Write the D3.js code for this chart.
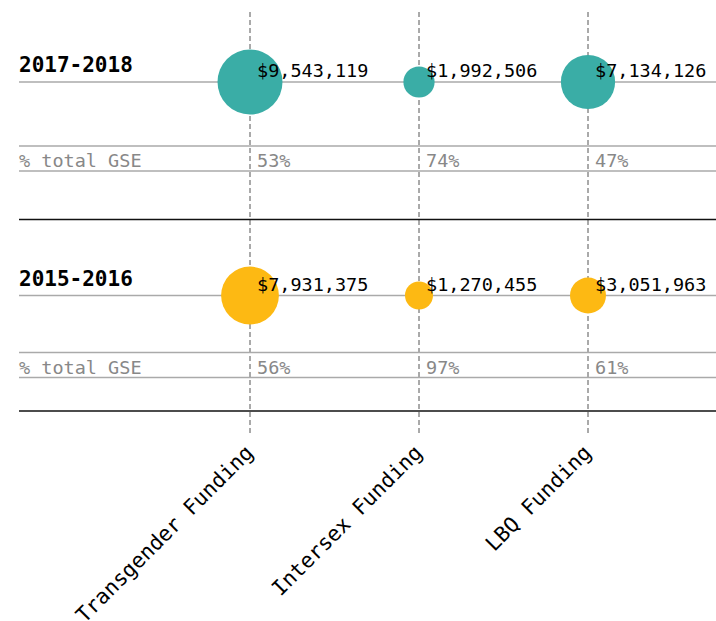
<!DOCTYPE html>
<html>
<head>
<meta charset="utf-8">
<script src="https://cdn.jsdelivr.net/npm/d3@7"></script>
<style>
  html, body { margin: 0; padding: 0; background: #fff; }
  svg { display: block; }
  text { font-family: "DejaVu Sans Mono", "Liberation Mono", monospace; }
</style>
</head>
<body>
<svg id="chart" width="716" height="621"></svg>
<script>
// ---- data ----
const categories = ["Transgender Funding", "Intersex Funding", "LBQ Funding"];
const periods = ["2017-2018", "2015-2016"];
const funding2017 = [9543119, 1992506, 7134126];
const funding2015 = [7931375, 1270455, 3051963];
const pctGSE2017 = ["53%", "74%", "47%"];
const pctGSE2015 = ["56%", "97%", "61%"];
const rowLabel = "% total GSE";

// ---- layout ----
const W = 716, H = 621;
const left = 19;
const svg = d3.select("#chart");

const x = d3.scalePoint().domain(categories).range([250, 588]);
const allVals = funding2017.concat(funding2015);
const r = d3.scaleLinear().domain(d3.extent(allVals)).range([14, 32.5]);
const fmt = d3.format("$,");

const rows = [
  { period: periods[0], values: funding2017, pct: pctGSE2017, color: "#3aada6",
    center: 82, g1: 146, g2: 171, black: 219.5 },
  { period: periods[1], values: funding2015, pct: pctGSE2015, color: "#fdb913",
    center: 295.5, g1: 352.5, g2: 377.5, black: 411 }
];

// dashed vertical guides
svg.append("g").selectAll("line").data(categories).join("line")
  .attr("x1", d => x(d)).attr("x2", d => x(d))
  .attr("y1", 12).attr("y2", 435)
  .attr("stroke", "#555").attr("stroke-width", 1)
  .attr("stroke-dasharray", "5,3");

rows.forEach(row => {
  const g = svg.append("g");
  [row.center, row.g1, row.g2].forEach(yy => {
    g.append("line").attr("x1", left).attr("x2", W).attr("y1", yy).attr("y2", yy)
      .attr("stroke", "#aaa").attr("stroke-width", 1.5);
  });
  g.append("line").attr("x1", left).attr("x2", W).attr("y1", row.black).attr("y2", row.black)
    .attr("stroke", "#111").attr("stroke-width", 1.5);

  // period title
  g.append("text").attr("x", left).attr("y", row.center - 10)
    .attr("font-size", "21px").attr("font-weight", "bold").attr("fill", "#000")
    .text(row.period);

  // circles
  g.selectAll("circle").data(row.values).join("circle")
    .attr("cx", (d, i) => x(categories[i]))
    .attr("cy", row.center)
    .attr("r", d => r(d))
    .attr("fill", row.color);

  // value labels
  g.selectAll("text.val").data(row.values).join("text").attr("class", "val")
    .attr("x", (d, i) => x(categories[i]) + 7)
    .attr("y", row.center - 5)
    .attr("font-size", "18.5px").attr("fill", "#000")
    .text(d => fmt(d));

  // % total GSE
  g.append("text").attr("x", left).attr("y", row.g2 - 4)
    .attr("font-size", "18.5px").attr("fill", "#888")
    .text(rowLabel);
  g.selectAll("text.pct").data(row.pct).join("text").attr("class", "pct")
    .attr("x", (d, i) => x(categories[i]) + 7)
    .attr("y", row.g2 - 4)
    .attr("font-size", "18.5px").attr("fill", "#888")
    .text(d => d);
});

// x axis labels (rotated)
const axis = d3.axisBottom(x).tickSize(0).tickPadding(0);
const ax = svg.append("g").attr("transform", "translate(0,445)").call(axis);
ax.select(".domain").remove();
ax.selectAll("text")
  .attr("font-family", "DejaVu Sans Mono, monospace")
  .attr("font-size", "21px")
  .attr("fill", "#000")
  .attr("text-anchor", "end")
  .attr("dy", "0")
  .attr("y", 0)
  .attr("transform", "translate(4,9) rotate(-45)");
</script>
</body>
</html>
